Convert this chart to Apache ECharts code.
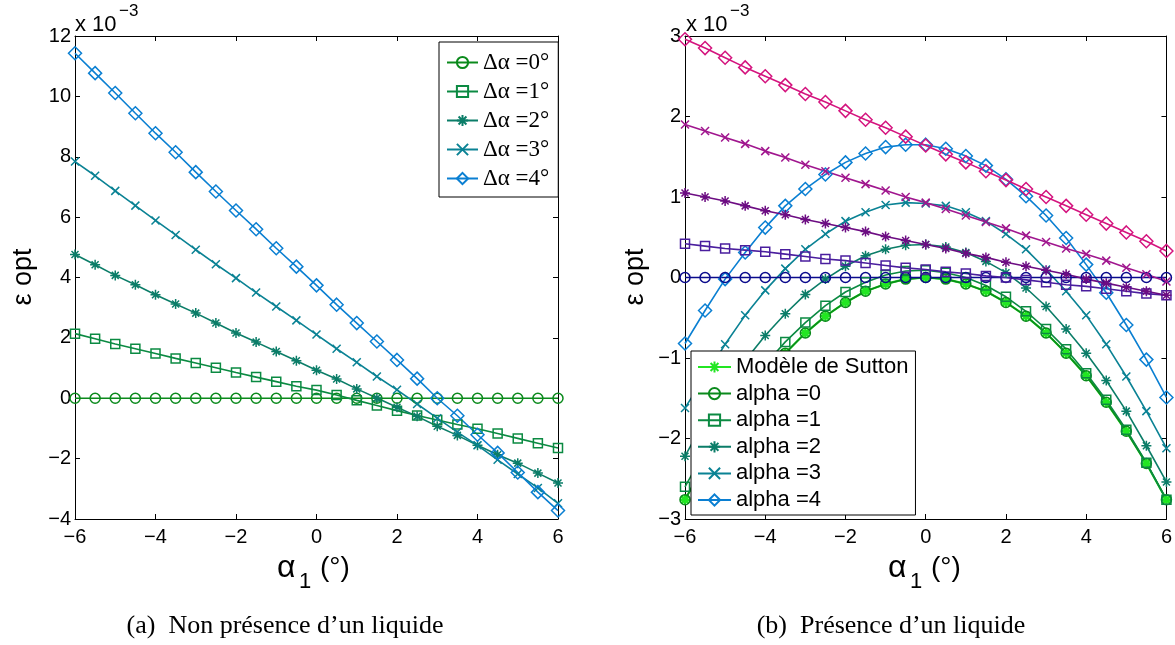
<!DOCTYPE html>
<html>
<head>
<meta charset="utf-8">
<script src="https://cdn.jsdelivr.net/npm/echarts@6/dist/echarts.min.js"></script>
<style>
html,body{margin:0;padding:0;background:#fff;}
#chart{width:1175px;height:645px;}
</style>
</head>
<body>
<div id="chart"></div>
<script>
// ---- data (values in units of 1e-3) ----
const xs = [-6,-5.5,-5,-4.5,-4,-3.5,-3,-2.5,-2,-1.5,-1,-0.5,0,0.5,1,1.5,2,2.5,3,3.5,4,4.5,5,5.5,6];

// (a) Non présence d'un liquide
const legendA = ['Δα =0°','Δα =1°','Δα =2°','Δα =3°','Δα =4°'];
const dA0 = [0,0,0,0,0,0,0,0,0,0,0,0,0,0,0,0,0,0,0,0,0,0,0,0,0];
const dA1 = [2.14,1.97,1.80,1.64,1.48,1.32,1.17,1.01,0.85,0.70,0.55,0.40,0.27,0.11,-0.07,-0.24,-0.41,-0.57,-0.72,-0.87,-1.01,-1.17,-1.33,-1.49,-1.65];
const dA2 = [4.76,4.42,4.07,3.76,3.43,3.12,2.82,2.49,2.16,1.86,1.55,1.24,0.93,0.64,0.31,0.01,-0.30,-0.60,-0.93,-1.23,-1.56,-1.87,-2.15,-2.48,-2.81];
const dA3 = [7.84,7.37,6.87,6.38,5.89,5.41,4.92,4.44,3.98,3.50,3.04,2.58,2.11,1.64,1.19,0.72,0.28,-0.19,-0.66,-1.12,-1.56,-2.04,-2.51,-2.97,-3.48];
const dA4 = [11.43,10.77,10.11,9.44,8.78,8.15,7.49,6.85,6.22,5.60,4.97,4.36,3.74,3.10,2.49,1.88,1.27,0.65,0.00,-0.58,-1.21,-1.81,-2.46,-3.11,-3.72];

// (b) Présence d'un liquide
const legendB = ['Modèle de Sutton','alpha =0','alpha =1','alpha =2','alpha =3','alpha =4'];
const sutton = [-2.76,-2.31,-1.91,-1.55,-1.22,-0.94,-0.69,-0.48,-0.31,-0.17,-0.08,-0.02,0,-0.02,-0.08,-0.17,-0.31,-0.48,-0.69,-0.94,-1.22,-1.55,-1.91,-2.31,-2.76];
const a0 = [-2.76,-2.31,-1.91,-1.55,-1.22,-0.94,-0.69,-0.48,-0.31,-0.17,-0.08,-0.02,0,-0.02,-0.08,-0.17,-0.31,-0.48,-0.69,-0.94,-1.22,-1.55,-1.91,-2.31,-2.76];
const a1 = [-2.60,-2.15,-1.75,-1.40,-1.08,-0.80,-0.56,-0.35,-0.18,-0.06,0.03,0.08,0.09,0.06,0.00,-0.10,-0.24,-0.42,-0.64,-0.89,-1.19,-1.52,-1.89,-2.30,-2.76];
const a2 = [-2.22,-1.77,-1.38,-1.03,-0.72,-0.45,-0.21,-0.02,0.14,0.27,0.35,0.40,0.41,0.38,0.31,0.20,0.06,-0.13,-0.36,-0.64,-0.94,-1.28,-1.66,-2.09,-2.54];
const a3 = [-1.62,-1.23,-0.83,-0.47,-0.16,0.11,0.35,0.54,0.70,0.81,0.90,0.93,0.92,0.89,0.81,0.70,0.54,0.35,0.10,-0.17,-0.47,-0.83,-1.23,-1.66,-2.12];
const a4 = [-0.82,-0.41,-0.02,0.31,0.62,0.89,1.10,1.28,1.43,1.54,1.62,1.65,1.65,1.60,1.51,1.39,1.22,1.01,0.77,0.49,0.16,-0.19,-0.59,-1.02,-1.49];
const l0 = [0,0,0,0,0,0,0,0,0,0,0,0,0,0,0,0,0,0,0,0,0,0,0,0,0];
const l1 = [0.42,0.39,0.36,0.34,0.32,0.29,0.26,0.23,0.21,0.18,0.15,0.12,0.10,0.07,0.05,0.02,0.00,-0.03,-0.06,-0.09,-0.11,-0.14,-0.17,-0.20,-0.22];
const l2 = [1.05,1.00,0.95,0.89,0.83,0.78,0.72,0.67,0.62,0.57,0.51,0.46,0.41,0.36,0.30,0.25,0.19,0.14,0.09,0.04,-0.02,-0.07,-0.12,-0.17,-0.22];
const l3 = [1.90,1.82,1.74,1.66,1.57,1.49,1.40,1.32,1.24,1.16,1.08,1.00,0.93,0.85,0.77,0.69,0.61,0.52,0.44,0.36,0.29,0.21,0.12,0.04,-0.05];
const l4 = [2.96,2.85,2.73,2.61,2.50,2.39,2.28,2.18,2.07,1.96,1.86,1.75,1.64,1.53,1.43,1.32,1.21,1.10,1.00,0.89,0.78,0.67,0.56,0.45,0.33];

const xTicks = {min: -6, max: 6, interval: 2};
const yTicksA = {min: -4, max: 12, interval: 2};
const yTicksB = {min: -3, max: 3, interval: 1};

// ---- styling ----
const C = {
  g0: '#0b8a1c', g1: '#0b8a42', g2: '#0b7d68', g3: '#0a8294', g4: '#0a7fd2',
  sut: '#22e622', navy: '#0a0a8c', indigo: '#4a1e9e', purple: '#6c0c82', mag1: '#a0168e', mag2: '#d4147e'
};
const SYM = {
  circle: 'circle', square: 'rect', diamond: 'diamond',
  star: 'path://M5,0L5,10M0,5L10,5M1.5,1.5L8.5,8.5M8.5,1.5L1.5,8.5',
  cross: 'path://M0,0L10,10M10,0L0,10'
};
const SIZE = {circle: 10, square: 9, diamond: 13, star: 10, cross: 8};

function mk(name, vals, color, sym, gi, extra) {
  extra = extra || {};
  return {
    type: 'line', name: name,
    xAxisIndex: gi * 2, yAxisIndex: gi * 2,
    data: xs.map((x, i) => [x, vals[i]]),
    symbol: SYM[sym], symbolSize: extra.size || SIZE[sym],
    showAllSymbol: true, clip: false, animation: false,
    lineStyle: {color: color, width: extra.lw || 1.6},
    itemStyle: {color: 'transparent', borderColor: color, borderWidth: extra.bw || 1.5},
    emphasis: {disabled: true}, silent: true
  };
}

const fmt = v => (v < 0 ? '\u2212' + Math.abs(v) : String(v));
const tickFont = {fontFamily: 'Liberation Sans', fontSize: 20, color: '#000'};

function xAx(gi, top) {
  return Object.assign({
    type: 'value', gridIndex: gi, position: top ? 'top' : 'bottom',
    axisLine: {onZero: false, lineStyle: {color: '#000', width: 1}},
    axisTick: {inside: true, length: 5, lineStyle: {color: '#000'}},
    axisLabel: top ? {show: false} : Object.assign({margin: 8, formatter: fmt}, tickFont),
    splitLine: {show: false}
  }, xTicks);
}
function yAx(gi, right, ticks) {
  return Object.assign({
    type: 'value', gridIndex: gi, position: right ? 'right' : 'left',
    axisLine: {onZero: false, lineStyle: {color: '#000', width: 1}},
    axisTick: {inside: true, length: 5, lineStyle: {color: '#000'}},
    axisLabel: right ? {show: false} : Object.assign({margin: 4, formatter: fmt}, tickFont),
    splitLine: {show: false}
  }, ticks);
}

const series = [
  mk(legendA[0], dA0, C.g0, 'circle', 0),
  mk(legendA[1], dA1, C.g1, 'square', 0),
  mk(legendA[2], dA2, C.g2, 'star', 0),
  mk(legendA[3], dA3, C.g3, 'cross', 0),
  mk(legendA[4], dA4, C.g4, 'diamond', 0),

  mk(legendB[0], sutton, C.sut, 'star', 1, {lw: 2.2, bw: 2.4, size: 10}),
  mk(legendB[1], a0, C.g0, 'circle', 1),
  mk(legendB[2], a1, C.g1, 'square', 1),
  mk(legendB[3], a2, C.g2, 'star', 1),
  mk(legendB[4], a3, C.g3, 'cross', 1),
  mk(legendB[5], a4, C.g4, 'diamond', 1),
  mk('liquide 0', l0, C.navy, 'circle', 1),
  mk('liquide 1', l1, C.indigo, 'square', 1),
  mk('liquide 2', l2, C.purple, 'star', 1),
  mk('liquide 3', l3, C.mag1, 'cross', 1),
  mk('liquide 4', l4, C.mag2, 'diamond', 1)
];

const sans = 'Liberation Sans';
const serif = 'Liberation Serif';
function txt(x, y, text, size, opts) {
  opts = opts || {};
  return {
    type: 'text', x: x, y: y, rotation: opts.rot || 0, silent: true,
    style: {text: text, fontFamily: opts.font || sans, fontSize: size, fill: '#000',
      align: opts.align || 'left', verticalAlign: opts.va || 'middle'}
  };
}

const option = {
  animation: false,
  backgroundColor: '#fff',
  grid: [
    {left: 75, right: 617, top: 36, bottom: 126},
    {left: 685, right: 7, top: 36, bottom: 126}
  ],
  xAxis: [xAx(0, false), xAx(0, true), xAx(1, false), xAx(1, true)],
  yAxis: [yAx(0, false, yTicksA), yAx(0, true, yTicksA), yAx(1, false, yTicksB), yAx(1, true, yTicksB)],
  legend: [
    {
      data: legendA, orient: 'vertical', left: 439, top: 42,
      itemWidth: 31, itemHeight: 14, itemGap: 6, padding: [9, 9, 7, 7],
      borderColor: '#000', borderWidth: 1, backgroundColor: '#fff', selectedMode: false,
      textStyle: {fontFamily: serif, fontSize: 23, lineHeight: 23, color: '#000'}
    },
    {
      data: legendB, orient: 'vertical', left: 691, top: 351,
      itemWidth: 33, itemHeight: 14, itemGap: 4.6, padding: [5, 7, 4, 6],
      borderColor: '#000', borderWidth: 1, backgroundColor: '#fff', selectedMode: false,
      textStyle: {fontFamily: sans, fontSize: 22, lineHeight: 22, color: '#000'}
    }
  ],
  graphic: [
    txt(75, 25, 'x 10', 22),
    txt(119, 11, '\u22123', 17),
    txt(686, 25, 'x 10', 22),
    txt(730, 11, '\u22123', 17),
    txt(24, 277, 'ε opt', 27, {align: 'center', rot: Math.PI / 2}),
    txt(636, 277, 'ε opt', 27, {align: 'center', rot: Math.PI / 2}),
    txt(277, 568, 'α', 32),
    txt(299, 582, '1', 22),
    txt(320, 568, '(°)', 28),
    txt(888, 568, 'α', 32),
    txt(910, 582, '1', 22),
    txt(931, 568, '(°)', 28),
    txt(285, 626, '(a)  Non présence d’un liquide', 26, {font: serif, align: 'center'}),
    txt(891, 626, '(b)  Présence d’un liquide', 26, {font: serif, align: 'center'})
  ],
  series: series
};

const chart = echarts.init(document.getElementById('chart'), null, {renderer: 'canvas'});
chart.setOption(option);
</script>
</body>
</html>
